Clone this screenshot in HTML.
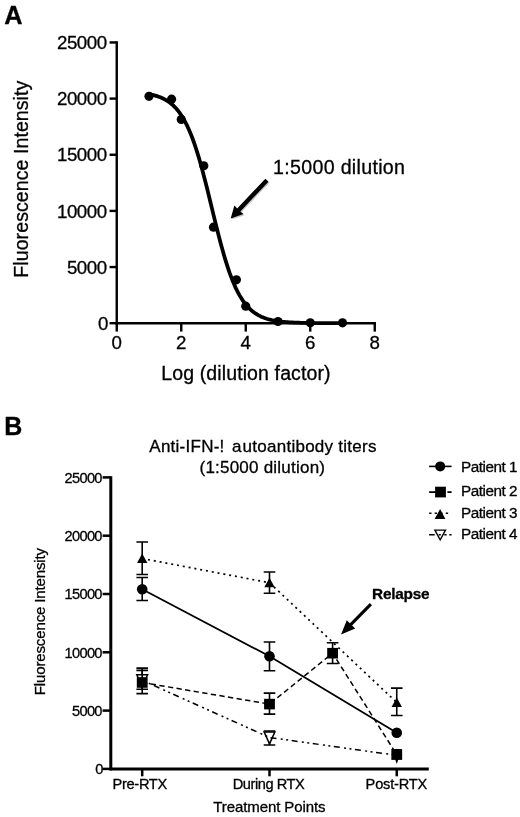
<!DOCTYPE html><html><head><meta charset="utf-8"><title>Figure</title><style>html,body{margin:0;padding:0;background:#fff}svg{display:block}text{font-family:"Liberation Sans",Arial,sans-serif;fill:#000;stroke:#000;stroke-width:0.3px}</style></head><body>
<svg width="520" height="817" viewBox="0 0 520 817">
<rect width="520" height="817" fill="#fff"/>
<text x="4.2" y="24" font-size="25.3" font-weight="bold">A</text>
<g stroke="#000" stroke-width="2.4" fill="none" stroke-linecap="butt">
<path d="M116.75 41.249999999999986 V324.4"/>
<path d="M115.55 323.2 H375.95"/>
<path d="M109.55 323.2 H116.75"/>
<path d="M109.55 267.05 H116.75"/>
<path d="M109.55 210.89999999999998 H116.75"/>
<path d="M109.55 154.74999999999997 H116.75"/>
<path d="M109.55 98.6 H116.75"/>
<path d="M109.55 42.44999999999999 H116.75"/>
<path d="M116.75 323.2 V331.59999999999997"/>
<path d="M181.25 323.2 V331.59999999999997"/>
<path d="M245.75 323.2 V331.59999999999997"/>
<path d="M310.25 323.2 V331.59999999999997"/>
<path d="M374.75 323.2 V331.59999999999997"/>
</g>
<text x="107.85" y="329.9" font-size="18.7" letter-spacing="-0.5" text-anchor="end">0</text>
<text x="106.55" y="273.75" font-size="18.7" letter-spacing="-0.5" text-anchor="end">5000</text>
<text x="106.55" y="217.59999999999997" font-size="18.7" letter-spacing="-0.5" text-anchor="end">10000</text>
<text x="106.55" y="161.44999999999996" font-size="18.7" letter-spacing="-0.5" text-anchor="end">15000</text>
<text x="106.55" y="105.3" font-size="18.7" letter-spacing="-0.5" text-anchor="end">20000</text>
<text x="106.55" y="49.14999999999999" font-size="18.7" letter-spacing="-0.5" text-anchor="end">25000</text>
<text x="116.75" y="349.1" font-size="18.7" text-anchor="middle">0</text>
<text x="181.25" y="349.1" font-size="18.7" text-anchor="middle">2</text>
<text x="245.75" y="349.1" font-size="18.7" text-anchor="middle">4</text>
<text x="310.25" y="349.1" font-size="18.7" text-anchor="middle">6</text>
<text x="374.75" y="349.1" font-size="18.7" text-anchor="middle">8</text>
<text x="245.9" y="380.3" font-size="19.5" text-anchor="middle" textLength="169.4" lengthAdjust="spacing">Log (dilution factor)</text>
<text transform="translate(28.2 179.2) rotate(-90)" font-size="19.6" text-anchor="middle" textLength="197" lengthAdjust="spacing">Fluorescence Intensity</text>
<path d="M149.00 94.13 L150.61 94.45 L152.22 94.80 L153.84 95.19 L155.45 95.63 L157.06 96.12 L158.68 96.67 L160.29 97.28 L161.90 97.96 L163.51 98.72 L165.12 99.57 L166.74 100.51 L168.35 101.56 L169.96 102.73 L171.57 104.02 L173.19 105.46 L174.80 107.04 L176.41 108.79 L178.03 110.73 L179.64 112.85 L181.25 115.19 L182.86 117.75 L184.48 120.55 L186.09 123.60 L187.70 126.92 L189.31 130.51 L190.93 134.38 L192.54 138.55 L194.15 143.01 L195.76 147.77 L197.38 152.82 L198.99 158.15 L200.60 163.74 L202.21 169.59 L203.82 175.65 L205.44 181.91 L207.05 188.33 L208.66 194.88 L210.27 201.50 L211.89 208.16 L213.50 214.82 L215.11 221.43 L216.73 227.95 L218.34 234.33 L219.95 240.55 L221.56 246.56 L223.18 252.35 L224.79 257.88 L226.40 263.14 L228.01 268.12 L229.62 272.81 L231.24 277.20 L232.85 281.30 L234.46 285.11 L236.07 288.63 L237.69 291.88 L239.30 294.87 L240.91 297.61 L242.52 300.12 L244.14 302.40 L245.75 304.48 L247.36 306.37 L248.97 308.08 L250.59 309.63 L252.20 311.03 L253.81 312.29 L255.42 313.42 L257.04 314.45 L258.65 315.37 L260.26 316.19 L261.88 316.93 L263.49 317.60 L265.10 318.20 L266.71 318.73 L268.33 319.21 L269.94 319.63 L271.55 320.02 L273.16 320.36 L274.77 320.66 L276.39 320.94 L278.00 321.18 L279.61 321.40 L281.23 321.59 L282.84 321.77 L284.45 321.92 L286.06 322.06 L287.67 322.18 L289.29 322.29 L290.90 322.39 L292.51 322.48 L294.12 322.56 L295.74 322.63 L297.35 322.69 L298.96 322.74 L300.58 322.79 L302.19 322.84 L303.80 322.88 L305.41 322.91 L307.02 322.94 L308.64 322.97 L310.25 323.00 L311.86 323.02 L313.48 323.04 L315.09 323.06 L316.70 323.07 L318.31 323.09 L319.92 323.10 L321.54 323.11 L323.15 323.12 L324.76 323.13 L326.38 323.14 L327.99 323.14 L329.60 323.15 L331.21 323.15 L332.83 323.16 L334.44 323.16 L336.05 323.17 L337.66 323.17 L339.27 323.17 L340.89 323.18 L342.50 323.18" fill="none" stroke="#000" stroke-width="3.75" stroke-linejoin="round" stroke-linecap="round"/>
<circle cx="149.00" cy="96.35" r="4.6" fill="#000"/>
<circle cx="171.57" cy="99.16" r="4.6" fill="#000"/>
<circle cx="181.25" cy="119.38" r="4.6" fill="#000"/>
<circle cx="203.82" cy="165.76" r="4.6" fill="#000"/>
<circle cx="213.50" cy="227.18" r="4.6" fill="#000"/>
<circle cx="236.40" cy="279.85" r="4.6" fill="#000"/>
<circle cx="245.75" cy="306.13" r="4.6" fill="#000"/>
<circle cx="278.00" cy="321.52" r="4.6" fill="#000"/>
<circle cx="310.25" cy="322.75" r="4.6" fill="#000"/>
<circle cx="342.50" cy="322.86" r="4.6" fill="#000"/>
<polygon points="268.46,181.68 240.30,211.47 243.52,214.11 230.70,218.50 234.36,205.45 237.17,208.52 265.34,178.72" fill="#c4c4c4" transform="translate(0.9 1.1)"/><polygon points="268.46,181.68 240.30,211.47 243.52,214.11 230.70,218.50 234.36,205.45 237.17,208.52 265.34,178.72" fill="#000"/>
<text x="273" y="173.8" font-size="19.6" textLength="132" lengthAdjust="spacing">1:5000 dilution</text>
<text x="4.3" y="435" font-size="25" font-weight="bold">B</text>
<g stroke="#000" stroke-width="3" fill="none">
<path d="M110.8 476.2 V770.3"/>
<path d="M109.39999999999999 768.9 H428.8"/>
</g><g stroke="#000" stroke-width="2.5" fill="none">
<path d="M102.6 768.9 H110.8"/>
<path d="M102.6 710.6 H110.8"/>
<path d="M102.6 652.3 H110.8"/>
<path d="M102.6 594.0 H110.8"/>
<path d="M102.6 535.6999999999999 H110.8"/>
<path d="M102.6 477.4 H110.8"/>
<path d="M142.2 768.9 V776.3"/>
<path d="M269.5 768.9 V776.3"/>
<path d="M396.75 768.9 V776.3"/>
</g>
<text x="102.8" y="774.15" font-size="14.6" letter-spacing="-0.67" text-anchor="end">0</text>
<text x="101.8" y="715.85" font-size="14.6" letter-spacing="-0.67" text-anchor="end">5000</text>
<text x="101.8" y="657.55" font-size="14.6" letter-spacing="-0.67" text-anchor="end">10000</text>
<text x="101.8" y="599.25" font-size="14.6" letter-spacing="-0.67" text-anchor="end">15000</text>
<text x="101.8" y="540.9499999999999" font-size="14.6" letter-spacing="-0.67" text-anchor="end">20000</text>
<text x="101.8" y="482.65" font-size="14.6" letter-spacing="-0.67" text-anchor="end">25000</text>
<text x="139.9" y="789.2" font-size="14.6" text-anchor="middle" textLength="54.6" lengthAdjust="spacing">Pre-RTX</text>
<text x="268.7" y="789.2" font-size="14.6" text-anchor="middle" textLength="72.1" lengthAdjust="spacing">During RTX</text>
<text x="396.4" y="789.2" font-size="14.6" text-anchor="middle" textLength="61.6" lengthAdjust="spacing">Post-RTX</text>
<text x="213.3" y="812.3" font-size="15" textLength="112.2" lengthAdjust="spacing">Treatment Points</text>
<text transform="translate(44.6 621.6) rotate(-90)" font-size="15.1" text-anchor="middle" textLength="147.2" lengthAdjust="spacing">Fluorescence Intensity</text>
<text y="451.8" font-size="17"><tspan x="149.3" textLength="75" lengthAdjust="spacing">Anti-IFN-!</tspan><tspan> </tspan><tspan x="232">a</tspan><tspan x="242.5" textLength="134" lengthAdjust="spacing">utoantibody titers</tspan></text>
<text x="199.5" y="472.5" font-size="17" textLength="125.5" lengthAdjust="spacing">(1:5000 dilution)</text>
<path d="M142.2 668.1 V689.2 M136.39999999999998 668.1 H148.0 M136.39999999999998 689.2 H148.0" stroke="#000" stroke-width="1.6" fill="none"/><path d="M269.5 731 V745 M263.7 731 H275.3 M263.7 745 H275.3" stroke="#000" stroke-width="1.6" fill="none"/>
<polygon points="136.79999999999998,674.6999999999999 147.6,674.6999999999999 142.2,686.6999999999999" fill="#fff" stroke="#000" stroke-width="1.5"/>
<polygon points="264.1,731.9 274.9,731.9 269.5,743.9" fill="#fff" stroke="#000" stroke-width="1.5"/>
<polygon points="392.55,749.6999999999999 400.95,749.6999999999999 396.75,761.6999999999999" fill="#fff" stroke="#000" stroke-width="1.5"/>
<path d="M142.20 680.30 L269.50 737.50 L396.75 755.30" fill="none" stroke="#000" stroke-width="1.5" stroke-dasharray="6 4.3 2 3.5 2 3.5" stroke-dashoffset="8.5"/>
<path d="M142.20 558.50 L269.50 582.75 L396.75 702.50" fill="none" stroke="#000" stroke-width="1.7" stroke-dasharray="2 3.9"/>
<path d="M142.2 542 V574.5 M136.39999999999998 542 H148.0 M136.39999999999998 574.5 H148.0" stroke="#000" stroke-width="1.6" fill="none"/><path d="M269.5 572 V593.25 M263.7 572 H275.3 M263.7 593.25 H275.3" stroke="#000" stroke-width="1.6" fill="none"/><path d="M396.75 688.1 V715.5 M390.95 688.1 H402.55 M390.95 715.5 H402.55" stroke="#000" stroke-width="1.6" fill="none"/>
<polygon points="137.0,562.9 147.39999999999998,562.9 142.2,553.6" fill="#000"/>
<polygon points="264.3,587.15 274.7,587.15 269.5,577.85" fill="#000"/>
<polygon points="391.55,706.9 401.95,706.9 396.75,697.6" fill="#000"/>
<path d="M142.20 589.25 L269.50 656.25 L396.75 732.80" fill="none" stroke="#000" stroke-width="1.8"/>
<path d="M142.2 577.5 V600.5 M136.39999999999998 577.5 H148.0 M136.39999999999998 600.5 H148.0" stroke="#000" stroke-width="1.6" fill="none"/><path d="M269.5 642 V670.75 M263.7 642 H275.3 M263.7 670.75 H275.3" stroke="#000" stroke-width="1.6" fill="none"/>
<circle cx="142.2" cy="589.25" r="5.3" fill="#000"/>
<circle cx="269.5" cy="656.25" r="5.3" fill="#000"/>
<circle cx="396.75" cy="732.8" r="5.3" fill="#000"/>
<path d="M142.20 682.50 L269.50 704.10 L332.60 653.20 L396.75 754.60" fill="none" stroke="#000" stroke-width="1.5" stroke-dasharray="5.3 3.4"/>
<path d="M142.2 670.4 V693.6 M136.39999999999998 670.4 H148.0 M136.39999999999998 693.6 H148.0" stroke="#000" stroke-width="1.6" fill="none"/><path d="M269.5 693.1 V714.1 M263.7 693.1 H275.3 M263.7 714.1 H275.3" stroke="#000" stroke-width="1.6" fill="none"/><path d="M332.6 642.8 V663.5 M326.8 642.8 H338.40000000000003 M326.8 663.5 H338.40000000000003" stroke="#000" stroke-width="1.6" fill="none"/>
<rect x="136.79999999999998" y="677.2" width="10.8" height="10.6" fill="#000"/>
<rect x="264.1" y="698.8000000000001" width="10.8" height="10.6" fill="#000"/>
<rect x="327.20000000000005" y="647.9000000000001" width="10.8" height="10.6" fill="#000"/>
<rect x="391.35" y="749.3000000000001" width="10.8" height="10.6" fill="#000"/>
<polygon points="372.01,605.18 352.09,625.54 355.20,628.58 341.05,634.60 346.77,620.32 349.87,623.37 369.79,603.02" fill="#000"/>
<text x="372" y="599.2" font-size="15.4" font-weight="bold" textLength="57.6" lengthAdjust="spacing">Relapse</text>
<path d="M429.1 466.4 H451.6" stroke="#000" stroke-width="1.6"/>
<circle cx="440.2" cy="466.4" r="5" fill="#000"/>
<path d="M429.1 492.1 H436 M447.4 492.1 H451.6" stroke="#000" stroke-width="1.6"/>
<rect x="435.1" y="486.7" width="10.8" height="10.7" fill="#000"/>
<path d="M429.1 513.2 H448.2" stroke="#000" stroke-width="1.6" stroke-dasharray="2.4 3.15"/>
<polygon points="434.6,518.9 445.4,518.9 440.1,508.9" fill="#000"/>
<path d="M429.1 534.8 H451.6" stroke="#000" stroke-width="1.6" stroke-dasharray="5.6 4.1 2 3.5 2.3 2.7 2.3 10"/>
<polygon points="434.9,530.1 445.5,530.1 440.2,539.8" fill="none" stroke="#000" stroke-width="1.4"/>
<text x="461" y="471.9" font-size="15.3" textLength="56.6" lengthAdjust="spacing">Patient 1</text>
<text x="461" y="495.6" font-size="15.3" textLength="56.6" lengthAdjust="spacing">Patient 2</text>
<text x="461" y="517.7" font-size="15.3" textLength="56.6" lengthAdjust="spacing">Patient 3</text>
<text x="461" y="539.4" font-size="15.3" textLength="56.6" lengthAdjust="spacing">Patient 4</text>
</svg></body></html>
